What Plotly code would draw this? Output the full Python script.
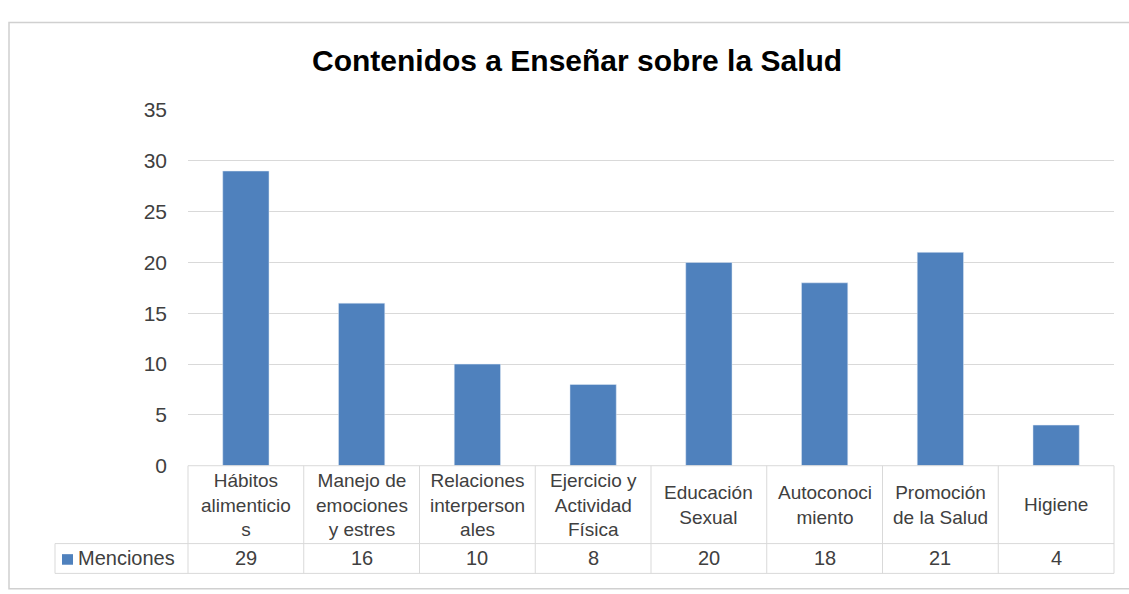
import plotly.graph_objects as go

categories = ["Hábitos<br>alimenticio<br>s", "Manejo de<br>emociones<br>y estres",
              "Relaciones<br>interperson<br>ales", "Ejercicio y<br>Actividad<br>Física",
              "Educación<br>Sexual", "Autoconoci<br>miento", "Promoción<br>de la Salud", "Higiene"]
values = [29, 16, 10, 8, 20, 18, 21, 4]
series_name = "Menciones"
title = "Contenidos a Enseñar sobre la Salud"
y_ticks = [0, 5, 10, 15, 20, 25, 30, 35]

W, H = 1129, 594
def px(x): return x / W
def py(y): return 1 - y / H

x0, x1 = 188, 1114
ytop, ybot = 102, 472
row1_bot, row2_bot = 553, 584
leg_left = 55
BLUE = "#4F81BD"
GRID = "#d9d9d9"
TXT = "#404040"
FONT = "Liberation Sans, Arial, sans-serif"

fig = go.Figure()
fig.add_trace(go.Bar(x=list(range(len(values))), y=values, marker_color=BLUE,
                     width=0.4, name=series_name, showlegend=False))

shapes = []
line = dict(color=GRID, width=1)
shapes.append(dict(type="rect", xref="paper", yref="paper", x0=px(9), x1=px(1135),
                   y0=py(600), y1=py(11), line=dict(color="#d0d0d0", width=1.5)))
shapes.append(dict(type="line", xref="paper", yref="paper", x0=px(x0), x1=px(x1), y0=py(ybot), y1=py(ybot), line=line))
for yy in (row1_bot, row2_bot):
    shapes.append(dict(type="line", xref="paper", yref="paper", x0=px(leg_left), x1=px(x1), y0=py(yy), y1=py(yy), line=line))
n = len(categories)
cw = (x1 - x0) / n
for k in range(n + 1):
    xx = x0 + k * cw
    shapes.append(dict(type="line", xref="paper", yref="paper", x0=px(xx), x1=px(xx), y0=py(ybot), y1=py(row2_bot), line=line))
shapes.append(dict(type="line", xref="paper", yref="paper", x0=px(leg_left), x1=px(leg_left), y0=py(row1_bot), y1=py(row2_bot), line=line))
shapes.append(dict(type="rect", xref="paper", yref="paper", x0=px(62), x1=px(73), y0=py(575), y1=py(564),
                   fillcolor=BLUE, line=dict(width=0)))

annotations = []
for i, (c, v) in enumerate(zip(categories, values)):
    annotations.append(dict(x=i, xref="x", y=py((ybot + row1_bot) / 2), yref="paper", text=c,
                            showarrow=False, font=dict(size=19, color=TXT, family=FONT),
                            align="center", yanchor="middle"))
    annotations.append(dict(x=i, xref="x", y=py((row1_bot + row2_bot) / 2), yref="paper", text=str(v),
                            showarrow=False, font=dict(size=20, color=TXT, family=FONT), yanchor="middle"))
annotations.append(dict(x=px(76), xref="paper", y=py((row1_bot + row2_bot) / 2), yref="paper", text=series_name,
                        showarrow=False, xanchor="left", yanchor="middle",
                        font=dict(size=20, color=TXT, family=FONT)))
annotations.append(dict(x=px(577), xref="paper", y=py(50), yref="paper", text="<b>" + title + "</b>",
                        showarrow=False, xanchor="center", yanchor="middle",
                        font=dict(size=30, color="#000000", family=FONT)))

fig.update_layout(
    width=W, height=H, margin=dict(l=0, r=0, t=0, b=0), autosize=False,
    paper_bgcolor="white", plot_bgcolor="white",
    xaxis=dict(domain=[px(x0), px(x1)], range=[-0.5, n - 0.5], showticklabels=False,
               showgrid=False, zeroline=False, showline=False, fixedrange=True),
    yaxis=dict(domain=[py(ybot), py(ytop)], range=[0, 35], tickvals=y_ticks,
               showgrid=True, gridcolor=GRID, gridwidth=1, zeroline=False, showline=False,
               tickfont=dict(size=21, color=TXT, family=FONT), ticklabelstandoff=20),
    shapes=shapes, annotations=annotations,
)
fig.write_html("out.html", config={"responsive": False, "displayModeBar": False},
               post_script=("document.documentElement.style.margin='0';"
                            "document.body.style.margin='0';document.body.style.overflow='hidden';"
                            "document.documentElement.style.overflow='hidden';"
                            "var d=document.querySelector('.plotly-graph-div');"
                            "d.style.position='fixed';d.style.top='0';d.style.left='0';"))
